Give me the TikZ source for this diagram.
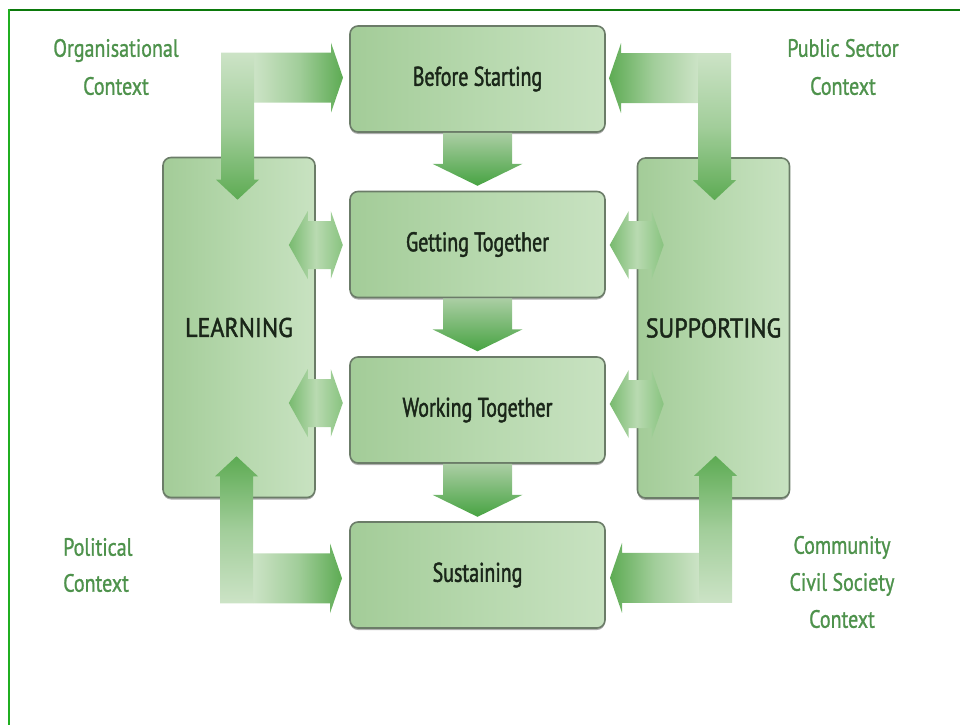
\documentclass[tikz,border=0pt]{standalone}
\usepackage{fontspec}
\setmainfont{PT Sans}
\newfontfamily\stagefont{PT Sans}[FakeStretch=0.74, FakeBold=1.6]
\newfontfamily\pillarfont{PT Sans}[FakeStretch=0.89, FakeBold=1.6]
\newfontfamily\ctxfont{PT Sans}[FakeStretch=0.80, FakeBold=1.1]
\usetikzlibrary{calc,shadows}

\definecolor{boxA}{HTML}{A3CC98}
\definecolor{boxB}{HTML}{C8E2C1}
\definecolor{boxC}{HTML}{B6D8AD}
\definecolor{edgegrey}{HTML}{6B7C68}
\definecolor{arrowpale}{HTML}{CCE3C6}
\definecolor{arrowdark}{HTML}{5DAB53}
\colorlet{arrowmid}{arrowpale!62!arrowdark}
\definecolor{flowtop}{HTML}{ABCEA4}
\definecolor{flowbot}{HTML}{47A342}
\definecolor{twoA}{HTML}{78BA6F}
\definecolor{twoB}{HTML}{B9DAB1}
\definecolor{twoC}{HTML}{88C37F}
\definecolor{ctxgreen}{HTML}{4E924C}
\definecolor{frametop}{HTML}{0B790B}
\definecolor{frameleft}{HTML}{20AE20}
\definecolor{labelink}{HTML}{1A2619}

\tikzset{
  stage/.style={draw=edgegrey, line width=1.6pt, rounded corners=8pt,
    left color=boxA, right color=boxB, middle color=boxC,
    drop shadow={shadow xshift=0pt, shadow yshift=-2pt, opacity=0.45, fill=black!70},
    minimum width=255pt, minimum height=106pt, inner sep=0pt,
    font=\stagefont\fontsize{27}{30}\selectfont, text=labelink},
  pillar/.style={stage, minimum width=152pt, minimum height=340pt,
    left color=boxA, right color=boxB, middle color=boxC,
    font=\pillarfont\fontsize{27}{30}\selectfont},
  ctx/.style={font=\ctxfont\fontsize{25}{38}\selectfont, text=ctxgreen,
    align=center, inner sep=0pt},
  pics/flowdown/.style={code={
    \shade[top color=flowtop, bottom color=flowbot]
      (-34.5,0) -- (-34.5,31) -- (-45,31) -- (0,53) -- (45,31)
      -- (34.5,31) -- (34.5,0) -- cycle;}},
  pics/twoway/.style={code={
    \shade[left color=twoA, right color=twoC, middle color=twoB]
      (-27,0) -- (-8,-34) -- (-8,-24) -- (15,-24) -- (15,-34) -- (27,0)
      -- (15,34) -- (15,24) -- (-8,24) -- (-8,34) -- cycle;}}
}

% Elbow-shaped block arrow from an outer corner:
% #1 corner, #2/#3 horizontal/vertical direction (+1 or -1),
% #4/#5 left/right colours of the horizontal arm,
% #6/#7 top/bottom colours of the vertical arm.
% The vertical arm covers the corner square; the horizontal arm starts beside it.
\newcommand\drawelbow[7]{%
  \begin{scope}[shift={(#1)}]
    \shade[left color=#4, right color=#5, middle color=arrowmid]
      ({#2*33},0) -- ({#2*110},0) -- ({#2*110},{-#3*10}) -- ({#2*122},{#3*25})
      -- ({#2*110},{#3*60}) -- ({#2*110},{#3*50}) -- ({#2*33},{#3*50}) -- cycle;
    \shade[top color=#6, bottom color=#7, middle color=arrowmid]
      (0,0) -- ({#2*33},0) -- ({#2*33},{#3*127}) -- ({#2*38},{#3*127})
      -- ({#2*16.5},{#3*147}) -- ({-#2*5},{#3*127}) -- (0,{#3*127}) -- cycle;
  \end{scope}}

\begin{document}
\begin{tikzpicture}[x=1pt, y=-1pt]
  \useasboundingbox (0,0) rectangle (960,725);

  % frame lines
  \draw[frametop, line width=2.2pt] (8,10) -- (960,10);
  \draw[frameleft, line width=2.2pt] (9,9) -- (9,725);

  % process stages
  \node[stage] (b1) at (477.5,79)    {Before Starting};
  \node[stage] (b2) at (477.5,244.5) {Getting Together};
  \node[stage] (b3) at (477.5,410)   {Working Together};
  \node[stage] (b4) at (477.5,575)   {Sustaining};

  % side pillars
  \node[pillar] (learn) at (239,327.5) {LEARNING};
  \node[pillar] (supp)  at (713.5,328) {SUPPORTING};

  % context labels
  \node[ctx] (org) at (116,67) {Organisational\\Context};
  \node[ctx] (pub) at (843,67) {Public Sector\\Context};
  \node[ctx, align=left, anchor=west,
        font=\ctxfont\fontsize{25}{36}\selectfont] (pol) at (63,565) {Political\\Context};
  \node[ctx, font=\ctxfont\fontsize{25}{37}\selectfont] (com) at (842,582)
        {Community\\Civil Society\\Context};

  % flow between stages
  \pic at (b1.south) {flowdown};
  \pic at (b2.south) {flowdown};
  \pic at (b3.south) {flowdown};

  % two-way links with the pillars
  \pic at ($(learn.east |- b2.center)+(0,0.5)$) {twoway};
  \pic at ($(learn.east |- b3.center)+(0,-7)$)  {twoway};
  \pic at ($(supp.west |- b2.center)+(0,0.5)$)  {twoway};
  \pic at ($(supp.west |- b3.center)+(0,-6)$)   {twoway};

  % context arrows feeding stages and pillars
  \coordinate (tlc) at ($(learn.north)+(-18,-104)$);
  \coordinate (trc) at ($(supp.north)+(17.5,-104)$);
  \coordinate (blc) at ($(learn.south)+(-19,105)$);
  \coordinate (brc) at ($(supp.south)+(18.5,104)$);
  \drawelbow{tlc}{1}{1}{arrowpale}{arrowdark}{arrowpale}{arrowdark}
  \drawelbow{trc}{-1}{1}{arrowdark}{arrowpale}{arrowpale}{arrowdark}
  \drawelbow{blc}{1}{-1}{arrowpale}{arrowdark}{arrowdark}{arrowpale}
  \drawelbow{brc}{-1}{-1}{arrowdark}{arrowpale}{arrowdark}{arrowpale}
\end{tikzpicture}
\end{document}
